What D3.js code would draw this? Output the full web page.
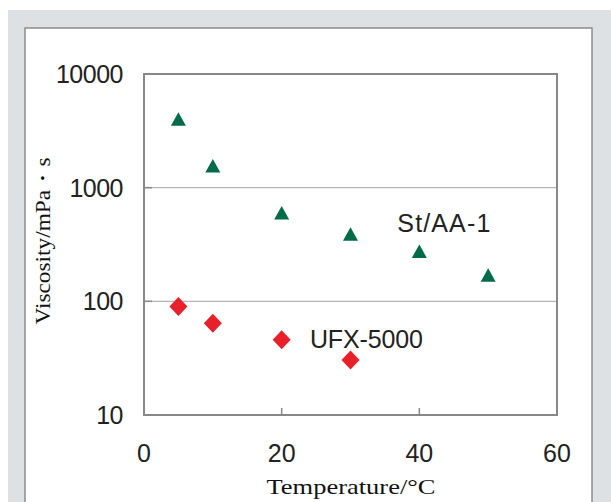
<!DOCTYPE html>
<html>
<head>
<meta charset="utf-8">
<script src="https://cdn.jsdelivr.net/npm/d3@7"></script>
<style>
  body { margin: 0; background: #fff; }
  svg { display: block; }
</style>
</head>
<body>
<svg width="611" height="502"></svg>
<script>
// data
const temps = [5, 10, 20, 30, 40, 50];
const stAA1 = [4000, 1550, 600, 390, 275, 170];
const ufxTemps = [5, 10, 20, 30];
const ufx5000 = [90, 64, 46, 30.5];
const xTicks = [0, 20, 40, 60];
const yTicks = [10, 100, 1000, 10000];

const svg = d3.select('svg');
const width = +svg.attr('width');
const height = +svg.attr('height');

// gray frame + white panel
svg.append('rect')
  .attr('x', 8).attr('y', 10)
  .attr('width', width - 8).attr('height', height - 10)
  .attr('fill', '#dde1e3');

svg.append('rect')
  .attr('x', 25).attr('y', 28)
  .attr('width', 567).attr('height', height)
  .attr('fill', '#fff')
  .attr('stroke', '#8c8c8c')
  .attr('stroke-width', 1.5);

const margin = { left: 144, top: 74, right: 557, bottom: 415 };

const x = d3.scaleLinear().domain([0, 60]).range([margin.left, margin.right]);
const y = d3.scaleLog().domain([10, 10000]).range([margin.bottom, margin.top]);

// gridlines
svg.append('g')
  .selectAll('line')
  .data([100, 1000])
  .join('line')
    .attr('x1', margin.left).attr('x2', margin.right)
    .attr('y1', d => y(d)).attr('y2', d => y(d))
    .attr('stroke', '#b4b4b4')
    .attr('stroke-width', 1.2);

// inner ticks
svg.append('g')
  .selectAll('line')
  .data([20, 40])
  .join('line')
    .attr('x1', d => x(d)).attr('x2', d => x(d))
    .attr('y1', margin.bottom).attr('y2', margin.bottom - 7)
    .attr('stroke', '#888')
    .attr('stroke-width', 1.5);

svg.append('g')
  .selectAll('line')
  .data([100, 1000, 10000])
  .join('line')
    .attr('x1', margin.left).attr('x2', margin.left + 8)
    .attr('y1', d => y(d)).attr('y2', d => y(d))
    .attr('stroke', '#888')
    .attr('stroke-width', 1.5);

// plot frame
svg.append('rect')
  .attr('x', margin.left).attr('y', margin.top)
  .attr('width', margin.right - margin.left)
  .attr('height', margin.bottom - margin.top)
  .attr('fill', 'none')
  .attr('stroke', '#888')
  .attr('stroke-width', 2);

// tick labels
const sans = '"Liberation Sans", Arial, sans-serif';

svg.append('g')
  .selectAll('text')
  .data(yTicks)
  .join('text')
    .attr('x', 123)
    .attr('y', d => y(d))
    .attr('dy', '0.36em')
    .attr('text-anchor', 'end')
    .attr('font-family', sans)
    .attr('font-size', 25)
    .attr('letter-spacing', -0.5)
    .attr('fill', '#222')
    .text(d => d);

svg.append('g')
  .selectAll('text')
  .data(xTicks)
  .join('text')
    .attr('x', d => x(d))
    .attr('y', 462)
    .attr('text-anchor', 'middle')
    .attr('font-family', sans)
    .attr('font-size', 25)
    .attr('fill', '#222')
    .text(d => d);

// axis titles
const serif = '"Liberation Serif", "Times New Roman", serif';

svg.append('text')
  .attr('x', 351)
  .attr('y', 494)
  .attr('text-anchor', 'middle')
  .attr('font-family', serif)
  .attr('font-size', 21)
  .attr('textLength', 169)
  .attr('lengthAdjust', 'spacingAndGlyphs')
  .attr('fill', '#111')
  .text('Temperature/°C');

svg.append('text')
  .attr('transform', 'translate(50, 241) rotate(-90)')
  .attr('text-anchor', 'middle')
  .attr('font-family', serif)
  .attr('font-size', 21)
  .attr('textLength', 167)
  .attr('lengthAdjust', 'spacingAndGlyphs')
  .attr('fill', '#111')
  .text('Viscosity/mPa・s');

// markers
const triangle = (cx, cy) => {
  const p = d3.path();
  p.moveTo(cx, cy - 7);
  p.lineTo(cx + 7.5, cy + 6.5);
  p.lineTo(cx - 7.5, cy + 6.5);
  p.closePath();
  return p.toString();
};

const diamond = (cx, cy) => {
  const p = d3.path();
  p.moveTo(cx, cy - 9.5);
  p.lineTo(cx + 9, cy);
  p.lineTo(cx, cy + 9.5);
  p.lineTo(cx - 9, cy);
  p.closePath();
  return p.toString();
};

svg.append('g')
  .selectAll('path')
  .data(temps.map((t, i) => [t, stAA1[i]]))
  .join('path')
    .attr('d', d => triangle(x(d[0]), y(d[1])))
    .attr('fill', '#006b47');

svg.append('g')
  .selectAll('path')
  .data(ufxTemps.map((t, i) => [t, ufx5000[i]]))
  .join('path')
    .attr('d', d => diamond(x(d[0]), y(d[1])))
    .attr('fill', '#e8202a');

// series labels
svg.append('text')
  .attr('x', x(36.8))
  .attr('y', y(407))
  .attr('font-family', sans)
  .attr('font-size', 25)
  .attr('textLength', 93)
  .attr('fill', '#222')
  .text('St/AA-1');

svg.append('text')
  .attr('x', x(24.1))
  .attr('y', y(39))
  .attr('font-family', sans)
  .attr('font-size', 25)
  .attr('textLength', 113)
  .attr('fill', '#222')
  .text('UFX-5000');
</script>
</body>
</html>
